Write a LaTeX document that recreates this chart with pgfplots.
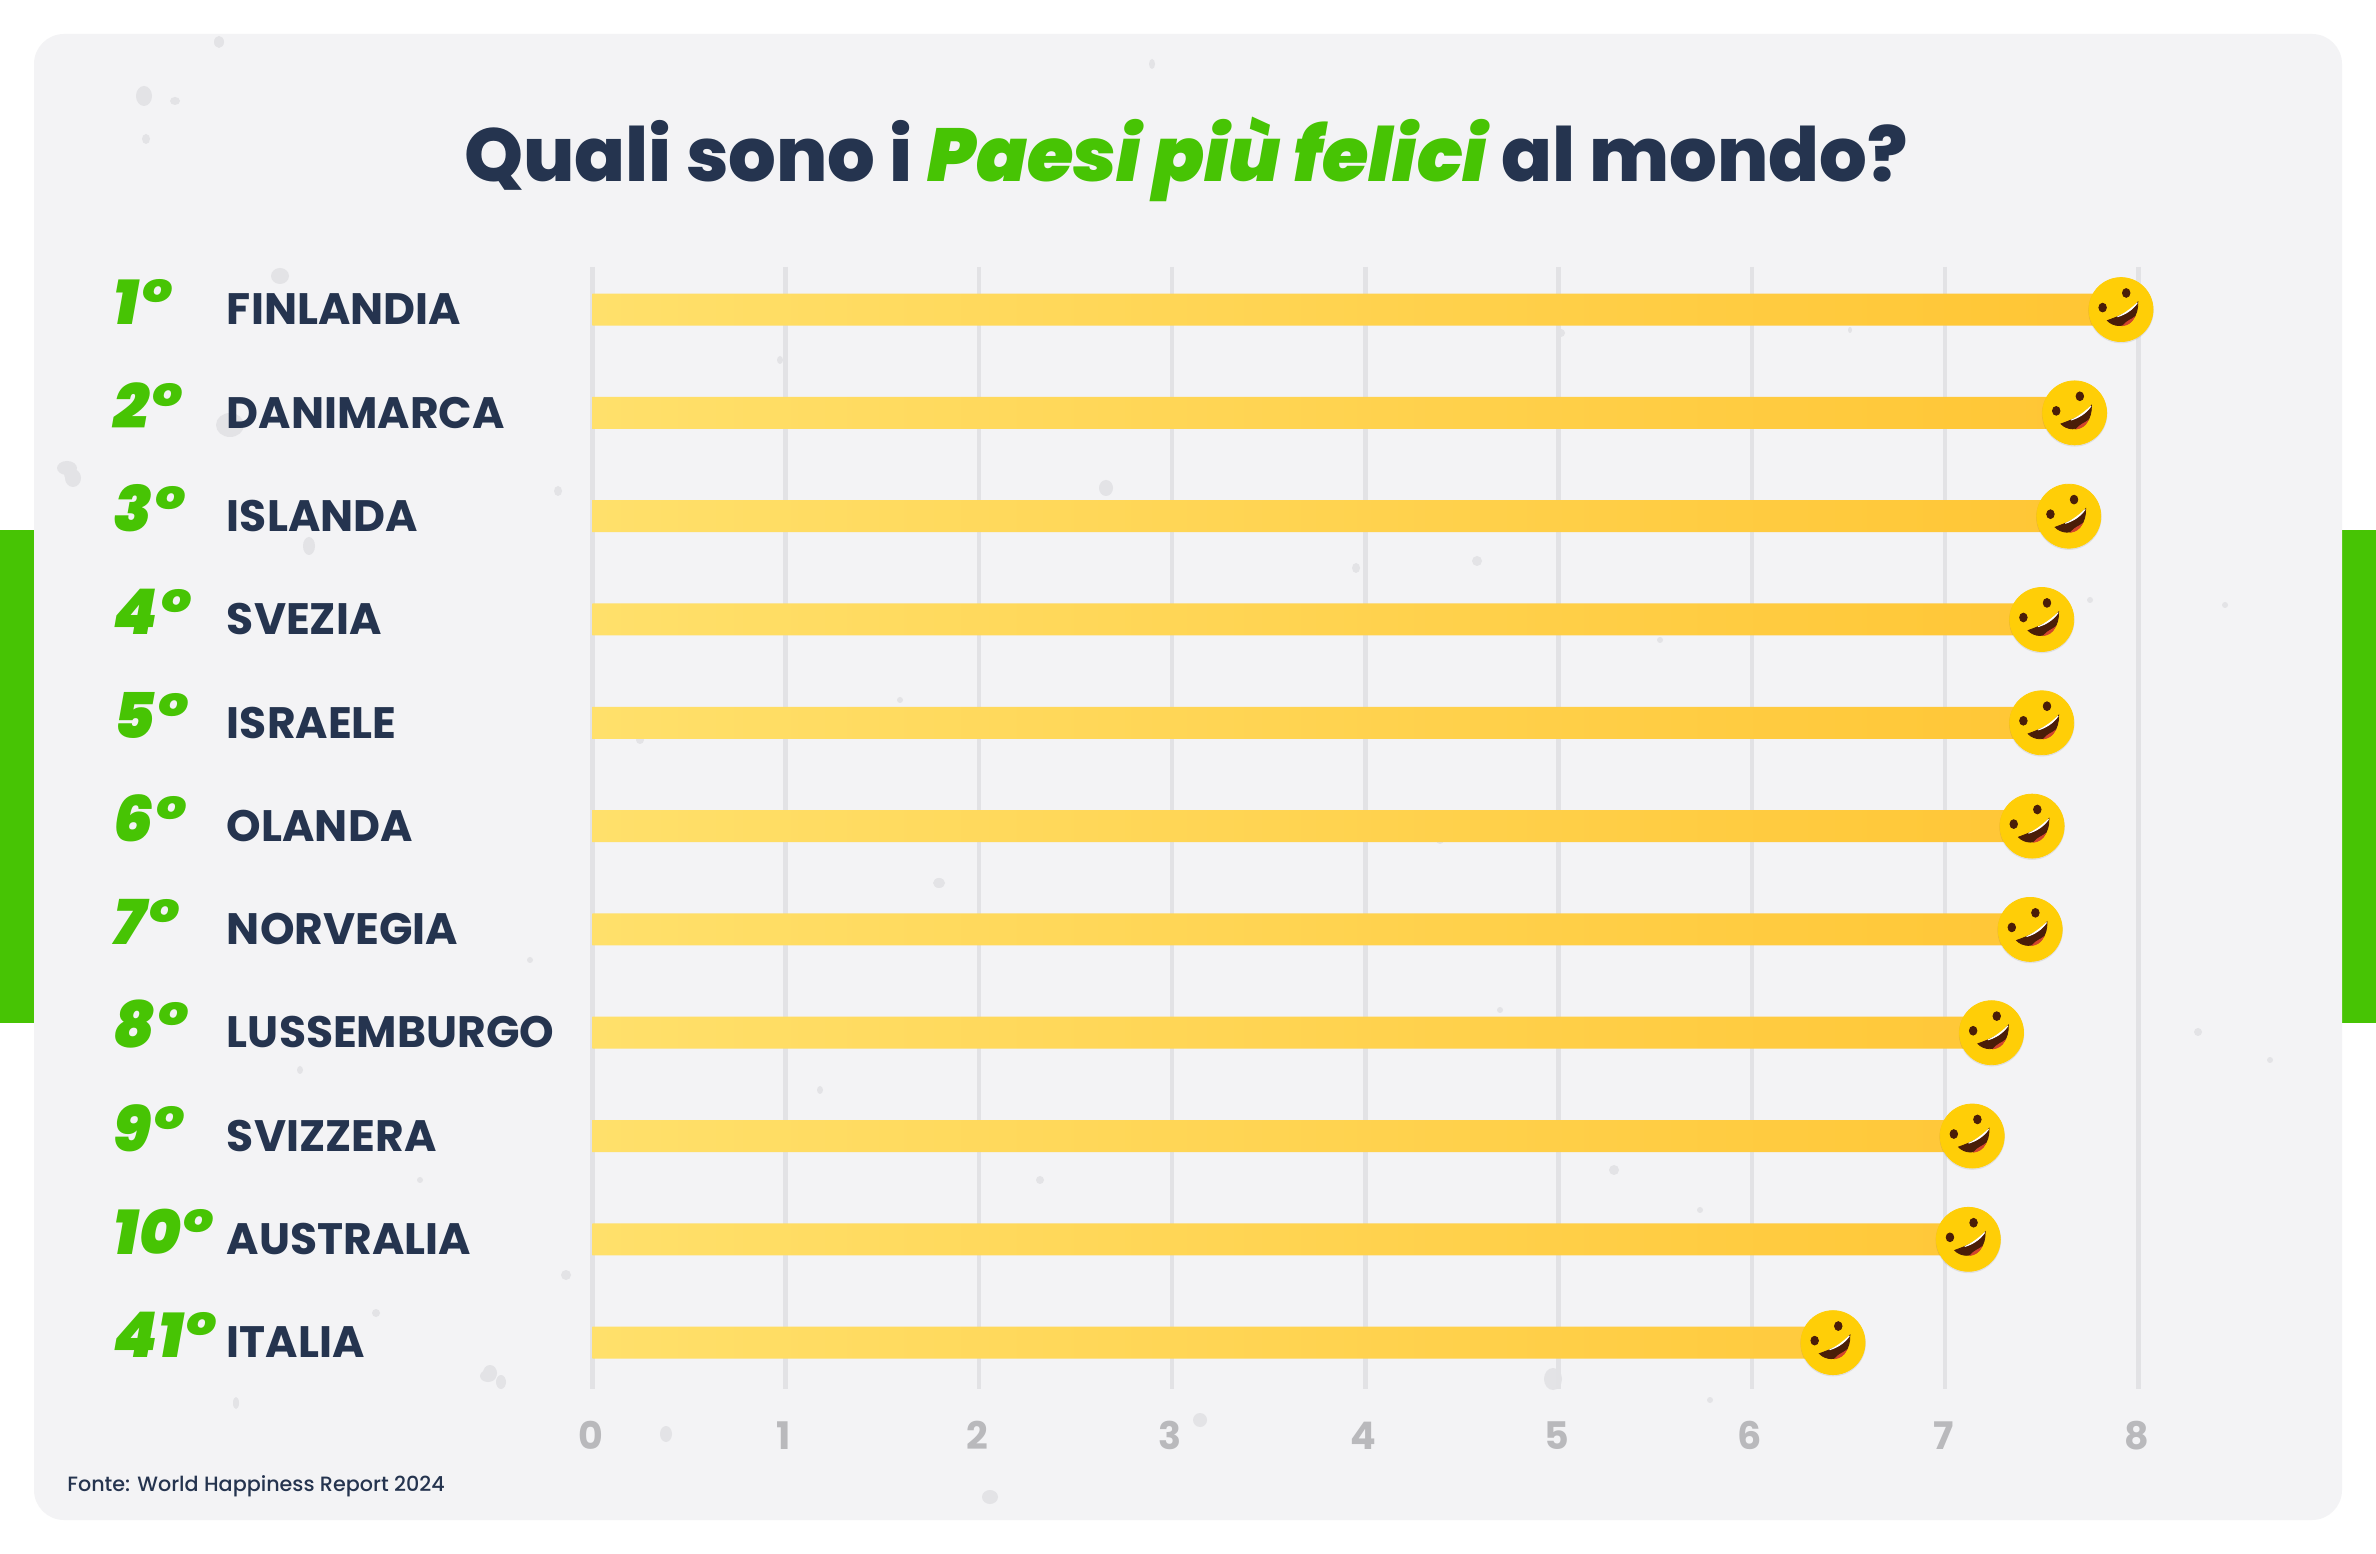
\documentclass[border=0pt]{standalone}
\usepackage{fontspec}
\usepackage{pgfplots}
\usepackage{pgfplotstable}
\pgfplotsset{compat=1.18}
\setmainfont{Poppins}[BoldFont=Poppins ExtraBold,BoldItalicFont=Poppins Black Italic,ItalicFont=Poppins Italic]
\newfontfamily\medfont{Poppins Medium}
\newfontfamily\boldf{Poppins Bold}
\newfontfamily\titleit{Poppins ExtraBold Italic}
\definecolor{card}{HTML}{F3F3F5}
\definecolor{grn}{HTML}{47C404}
\definecolor{navy}{HTML}{25344F}
\definecolor{gridc}{HTML}{E2E2E5}
\definecolor{tickc}{HTML}{B9B9BC}
\definecolor{emo}{HTML}{FFCE07}
\definecolor{speck}{HTML}{E3E3E6}
\definecolor{mouthc}{HTML}{4A1D08}
\definecolor{tongue}{HTML}{D2452C}
\pgfdeclareplotmark{laugh}{%
  \fill[black,opacity=0.05] (0pt,-0.5pt) circle[radius=16.2pt];
  \fill[emo] (0pt,0pt) circle[radius=16pt];
  \fill[mouthc,rotate around={-20:(-9.2pt,1pt)}] (-9.2pt,1pt) ellipse[x radius=1.9pt,y radius=2.2pt];
  \fill[mouthc,rotate around={-20:(2.6pt,8.3pt)}] (2.6pt,8.3pt) ellipse[x radius=1.9pt,y radius=2.2pt];
  \fill[mouthc] (-6.8pt,-5.5pt) .. controls (0pt,-3pt) and (5pt,-1pt) .. (8.4pt,3.7pt)
     .. controls (8.6pt,-3pt) and (5pt,-8pt) .. (-1pt,-8pt)
     .. controls (-3pt,-8pt) and (-5.5pt,-7pt) .. (-6.8pt,-5.5pt) -- cycle;
  \fill[tongue] (1pt,-8pt) .. controls (3pt,-5.5pt) and (5.5pt,-5pt) .. (6.6pt,-3.9pt)
     .. controls (5.5pt,-6.5pt) and (3pt,-7.8pt) .. (1pt,-8pt) -- cycle;
  \fill[white] (-1.8pt,-3.6pt) .. controls (2pt,-2.4pt) and (5.5pt,-0.4pt) .. (8.2pt,3.4pt)
     .. controls (5.5pt,0.8pt) and (2pt,-2pt) .. (-1.8pt,-3.6pt) -- cycle;
}
\newcommand{\rk}[2]{\makebox[56.5pt][l]{\color{grn}\fontsize{31.5}{33}\selectfont\bfseries\itshape #1}\makebox[182.5pt][l]{\color{navy}\boldf\fontsize{22}{22}\selectfont #2}}
\pgfplotstableread{
row value
0 7.91
1 7.67
2 7.64
3 7.50
4 7.50
5 7.45
6 7.44
7 7.24
8 7.14
9 7.12
10 6.42
}\happy
\begin{document}
\begin{tikzpicture}
\begin{scope}[x=0.5pt,y=-0.5pt,yshift=776.5pt]
\fill[white] (0,0) rectangle (2376,1553);
\fill[grn] (0,530) rectangle (40,1023);
\fill[grn] (2336,530) rectangle (2376,1023);
\fill[card,rounded corners=15pt] (34,34) rectangle (2342,1520);
\foreach \x/\y/\a/\b in {144/96/8/10,175/101/5/4,219/42/5/6,146/139/4/5,280/276/9/8,230/425/14/12,67/468/10/7,73/478/8/9,309/546/6/9,558/491/4/5,376/1313/4/4,490/1373/7/8,501/1382/5/7,566/1275/5/5,666/1434/6/8,236/1403/3/6,1553/1379/9/11,990/1497/8/7,1106/488/7/8,488/1376/8/6,1152/64/3/5,71/474/7/7,1614/1170/5/5,1477/561/5/5,939/883/6/5,1561/333/4/4,1356/568/4/5,1200/1420/7/7,1440/840/4/4,2198/1032/4/4,1980/420/4/3,1850/330/2/3,2270/1060/3/3,1040/1180/4/4,640/740/4/4,820/1090/3/4,1270/1240/4/3,1700/1210/3/3,780/360/3/4,1660/640/3/3,2090/600/3/3,2225/605/3/3,300/1070/3/4,420/1180/3/3,1710/1400/3/3,530/960/3/3,900/700/3/3,1500/1010/3/3}
  \fill[speck] (\x,\y) ellipse[x radius=\a,y radius=\b];
\node[anchor=base,inner sep=0pt,text=navy] at (1186,182) {\fontsize{37.5}{37.5}\selectfont\bfseries Quali sono i {\color{grn}\titleit Paesi più felici} al mondo?};
\node[anchor=base west,inner sep=0pt,text=navy] at (67,1491) {\medfont\fontsize{10.35}{10.35}\selectfont Fonte: World Happiness Report 2024};
\end{scope}
\begin{axis}[
  at={(296.2pt,82.2pt)},anchor=south west,
  scale only axis,width=773pt,height=561pt,
  xmin=0,xmax=8,ymin=-0.416,ymax=10.445,y dir=reverse,
  clip=false,
  axis line style={draw=none},
  major tick length=0pt,
  xtick={0,1,2,3,4,5,6,7,8},
  ytick={0,1,2,3,4,5,6,7,8,9,10},
  yticklabels={\rk{1°}{FINLANDIA},\rk{2°}{DANIMARCA},\rk{3°}{ISLANDA},\rk{4°}{SVEZIA},\rk{5°}{ISRAELE},\rk{6°}{OLANDA},\rk{7°}{NORVEGIA},\rk{8°}{LUSSEMBURGO},\rk{9°}{SVIZZERA},\rk{10°}{AUSTRALIA},\rk{41°}{ITALIA}},
  xmajorgrids,
  grid style={draw=gridc,line width=2.2pt},
  /pgf/number format/assume math mode=true,
  xticklabel style={anchor=base,inner sep=0pt,yshift=-30.5pt,xshift=-1pt,text=tickc,font=\boldf\fontsize{19}{19}\selectfont},
  yticklabel style={anchor=base east,inner sep=0pt,yshift=-7.6pt},
]
\addplot[xbar,bar width=16pt,draw=none,shade,shading=axis,left color={rgb,255:red,255;green,224;blue,107},right color={rgb,255:red,255;green,197;blue,51}] table[x=value,y=row] {\happy};
\addplot[only marks,mark=laugh] table[x=value,y=row] {\happy};
\end{axis}
\end{tikzpicture}
\end{document}
